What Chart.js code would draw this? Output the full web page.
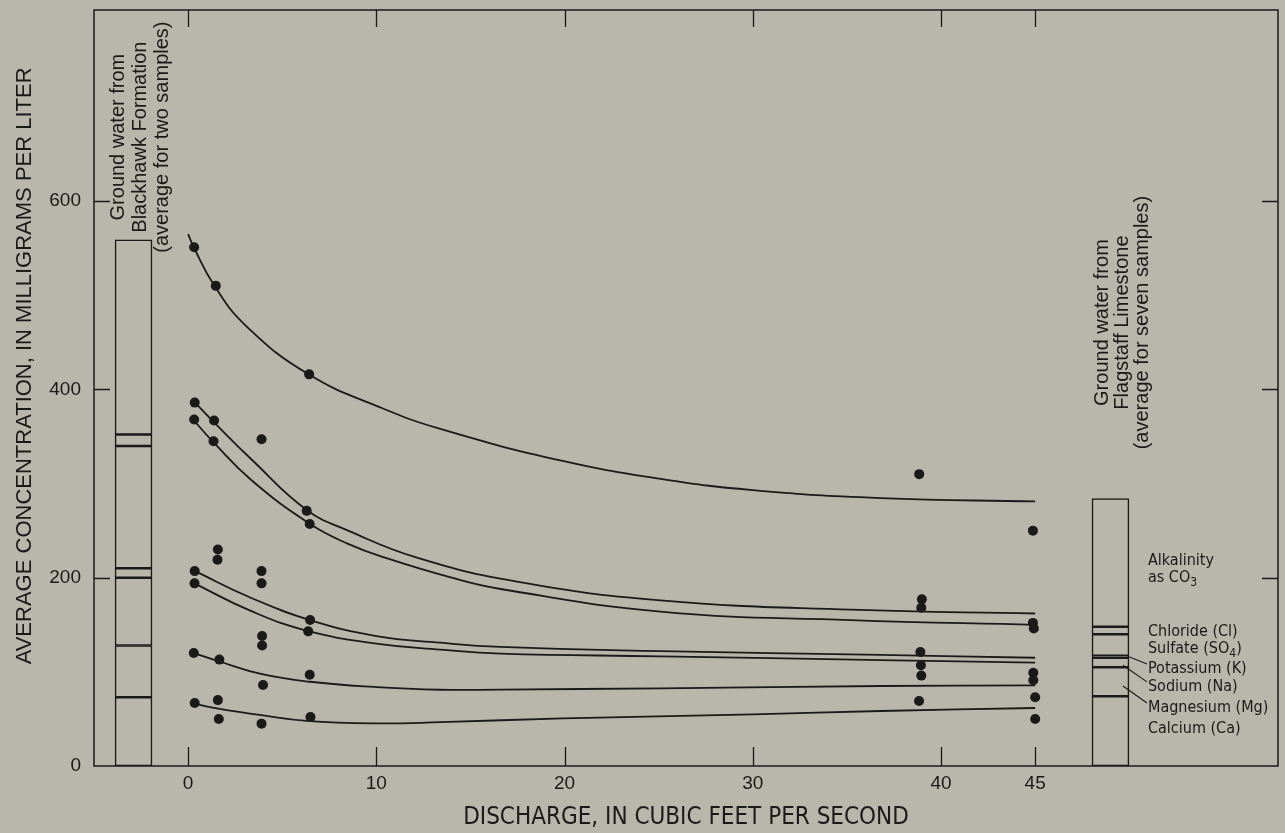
<!DOCTYPE html>
<html lang="en">
<head>
<meta charset="utf-8">
<title>Average concentration and discharge</title>
<script src="https://cdn.jsdelivr.net/npm/chart.js@4.4.1/dist/chart.umd.min.js"></script>
<style>
  html, body { margin: 0; padding: 0; background: #b9b6ab; }
  .chart-wrap { position: relative; width: 1285px; height: 833px; }
</style>
</head>
<body>
<div class="chart-wrap"><canvas id="chart"></canvas></div>
<script>
// constituents, from the bottom of each bar to the top ("_3" = subscript 3)
const constituents = ['Calcium (Ca)', 'Magnesium (Mg)', 'Sodium (Na)', 'Potassium (K)', 'Sulfate (SO_4)', 'Chloride (Cl)', 'Alkalinity\nas CO_3'];
const blackhawkMgL = [73, 55, 72, 10, 130, 12, 207];
const flagstaffMgL = [74, 31, 10, 2, 23, 8, 136];
const blackhawkQ = -2.9;
const flagstaffQ = 49;

// stream samples: discharge (ft3/s) and concentration (mg/L)
const sampleQ = [
  0.32, 0.35, 0.32, 0.35, 0.34, 0.30, 0.35,
  1.47, 1.38, 1.35, 1.58, 1.56, 1.66, 1.58, 1.63,
  3.90, 3.90, 3.90, 3.93, 3.93, 3.98, 3.90,
  6.43, 6.30, 6.46, 6.48, 6.38, 6.46, 6.50,
  38.84, 38.98, 38.95, 38.90, 38.93, 38.95, 38.83,
  44.88, 44.88, 44.93, 44.90, 44.90, 45.00, 45.00
];
const sampleMgL = [
  551, 386, 368, 207, 194, 120, 67,
  510, 367, 345, 230, 219, 113, 70, 50,
  347, 207, 194, 138, 128, 86, 45,
  416, 271, 257, 155, 143, 97, 52,
  310, 177, 168, 121, 107, 96, 69,
  250, 152, 146, 99, 91, 73, 50
];

// fitted curves, top of each cumulative constituent band
const totalQ = [0, 0.3, 1.4, 3.1, 6.4, 10.2, 13.4, 19.9, 25.1, 30, 36.8, 45];
const totalMgL = [565, 551, 510, 467, 416, 381, 358, 324, 305, 293, 284.5, 281];
const chlorideQ = [0.37, 1.38, 3.4, 6.3, 8.5, 12.2, 17.4, 25.1, 35.2, 45];
const chlorideMgL = [386, 365, 325, 272, 250, 221, 196, 176, 166, 162];
const sulfateQ = [0.31, 1.34, 3.4, 6.48, 8.5, 10.5, 14, 16.6, 25.1, 35.2, 45];
const sulfateMgL = [367, 344, 303, 257, 236, 221, 200, 188, 164, 155, 150];
const potassiumQ = [0.37, 3.3, 6.48, 10, 13.4, 16.6, 25.1, 36.8, 45];
const potassiumMgL = [207, 179, 155, 138, 131, 126.5, 122, 118, 115];
const sodiumQ = [0.33, 3.3, 6.35, 10, 13.4, 16.6, 25.1, 36.8, 45];
const sodiumMgL = [194, 165, 143.4, 130, 123.6, 119.4, 116.5, 112.5, 109.7];
const magnesiumQ = [0.3, 1.66, 3.93, 6.48, 9.84, 13.4, 16.6, 25.1, 36.8, 45];
const magnesiumMgL = [120, 111, 97.5, 89.5, 84, 81, 81.2, 82.5, 85, 85.6];
const calciumQ = [0.35, 1.6, 3.9, 6.3, 9.85, 13.4, 19.9, 30, 36.8, 45];
const calciumMgL = [66, 61, 54, 48, 45.3, 46.5, 50.6, 54.8, 58.4, 61.6];

const xTickValues = [0, 10, 20, 30, 40, 45];
const yTickValues = [0, 200, 400, 600];

// where the Flagstaff labels sit (mg/L) and where the leader lines start
const labelAt = [39, 61.6, 84, 103, 124, 142, 217.6];
const leaderFrom = [null, 85, 107, 116, null, null, null];

const ink = '#1a1a18';
const sansFont = "'Liberation Sans', Arial, sans-serif";
const narrowFont = "'Liberation Sans Narrow', 'DejaVu Sans Condensed', 'Liberation Sans', sans-serif";

const toPoints = (xs, ys) => xs.map((v, i) => ({ x: v, y: ys[i] }));

const stackSegments = (q, values) => {
  let base = 0;
  return values.map((v) => {
    const seg = { x: q, y: [base, base + v] };
    base += v;
    return seg;
  });
};

const curves = [
  toPoints(totalQ, totalMgL),
  toPoints(chlorideQ, chlorideMgL),
  toPoints(sulfateQ, sulfateMgL),
  toPoints(potassiumQ, potassiumMgL),
  toPoints(sodiumQ, sodiumMgL),
  toPoints(magnesiumQ, magnesiumMgL),
  toPoints(calciumQ, calciumMgL)
];

function drawWithSubscripts(ctx, text, x, y, size) {
  const parts = text.split(/_(\d)/);
  parts.forEach((part, i) => {
    const sub = i % 2 === 1;
    ctx.font = `${sub ? Math.round(size * 0.72) : size}px ${narrowFont}`;
    ctx.fillText(part, x, y + (sub ? size * 0.3 : 0));
    x += ctx.measureText(part).width;
  });
}

function rotatedLines(ctx, lines, cx, cy, gap) {
  lines.forEach((t, i) => {
    ctx.save();
    ctx.translate(cx + (i - (lines.length - 1) / 2) * gap, cy);
    ctx.rotate(-Math.PI / 2);
    ctx.fillText(t, 0, 0);
    ctx.restore();
  });
}

const frameAndNotes = {
  id: 'frameAndNotes',
  afterDraw(chart) {
    const { ctx, chartArea: a, scales: { x, y } } = chart;
    ctx.save();
    ctx.strokeStyle = ink;
    ctx.fillStyle = ink;

    // frame
    ctx.lineWidth = 1.5;
    ctx.strokeRect(a.left, a.top, a.right - a.left, a.bottom - a.top);

    // ticks pointing into the plot, on all four sides
    ctx.lineWidth = 1.3;
    ctx.beginPath();
    xTickValues.forEach((v) => {
      const px = Math.round(x.getPixelForValue(v)) + 0.5;
      ctx.moveTo(px, a.bottom); ctx.lineTo(px, a.bottom - 19);
      ctx.moveTo(px, a.top); ctx.lineTo(px, a.top + 17);
    });
    yTickValues.filter((v) => v > 0).forEach((v) => {
      const py = Math.round(y.getPixelForValue(v)) + 0.5;
      ctx.moveTo(a.left, py); ctx.lineTo(a.left + 16, py);
      ctx.moveTo(a.right, py); ctx.lineTo(a.right - 16, py);
    });
    ctx.stroke();

    // y axis title
    ctx.font = `22px ${sansFont}`;
    ctx.textAlign = 'center';
    ctx.textBaseline = 'middle';
    rotatedLines(ctx, ['AVERAGE CONCENTRATION, IN MILLIGRAMS PER LITER'], 25, y.getPixelForValue(425), 0);

    // notes beside the two ground-water bars
    ctx.font = `20px ${sansFont}`;
    rotatedLines(ctx, ['Ground water from', 'Blackhawk Formation', '(average for two samples)'],
      x.getPixelForValue(blackhawkQ) + 6.5, y.getPixelForValue(668), 22);
    rotatedLines(ctx, ['Ground water from', 'Flagstaff Limestone', '(average for seven samples)'],
      x.getPixelForValue(flagstaffQ) + 12, y.getPixelForValue(471), 20);

    // constituent labels for the Flagstaff bar
    const barRight = x.getPixelForValue(flagstaffQ) + 18.5;
    const labelX = barRight + 19;
    ctx.textAlign = 'left';
    constituents.forEach((name, i) => {
      const py = y.getPixelForValue(labelAt[i]);
      name.split('\n').forEach((line, j) => drawWithSubscripts(ctx, line, labelX, py + j * 17, 16));
      if (leaderFrom[i] !== null) {
        const startX = i === 3 ? barRight : barRight - 6;
        ctx.lineWidth = 1.1;
        ctx.beginPath();
        ctx.moveTo(startX, y.getPixelForValue(leaderFrom[i]));
        ctx.lineTo(labelX - 1, py - 5);
        ctx.stroke();
      }
    });
    ctx.restore();
  }
};

document.addEventListener('DOMContentLoaded', function () {
  Chart.defaults.font.family = sansFont;
  Chart.defaults.color = ink;

  new Chart(document.getElementById('chart'), {
    type: 'scatter',
    data: {
      datasets: [
        {
          type: 'scatter',
          data: toPoints(sampleQ, sampleMgL),
          pointRadius: 5,
          pointBackgroundColor: ink,
          pointBorderWidth: 0
        },
        ...curves.map((pts) => ({
          type: 'line',
          data: pts,
          borderColor: ink,
          borderWidth: 1.8,
          pointRadius: 0,
          tension: 0.45,
          fill: false
        })),
        {
          type: 'bar',
          data: [...stackSegments(blackhawkQ, blackhawkMgL), ...stackSegments(flagstaffQ, flagstaffMgL)],
          backgroundColor: 'rgba(0,0,0,0)',
          borderColor: ink,
          borderWidth: 0.9,
          borderSkipped: false,
          barThickness: 37
        }
      ]
    },
    options: {
      responsive: true,
      maintainAspectRatio: false,
      animation: false,
      events: [],
      layout: { padding: { top: 10, right: 7, left: 0, bottom: 0 } },
      plugins: { legend: { display: false }, tooltip: { enabled: false } },
      scales: {
        x: {
          type: 'linear',
          min: -5,
          max: 57.9,
          offset: false,
          grid: { display: false, drawTicks: false, offset: false },
          border: { display: false },
          afterBuildTicks: (s) => { s.ticks = xTickValues.map((v) => ({ value: v })); },
          afterFit: (s) => { s.height = 67; s.paddingLeft = 0; s.paddingRight = 0; },
          ticks: { color: ink, font: { size: 19 }, padding: 6, maxRotation: 0, autoSkip: false },
          title: {
            display: true,
            text: 'DISCHARGE, IN CUBIC FEET PER SECOND',
            color: ink,
            font: { family: narrowFont, size: 24 },
            padding: { top: 0, bottom: 1 }
          }
        },
        y: {
          type: 'linear',
          min: 0,
          max: 803,
          grid: { display: false, drawTicks: false },
          border: { display: false },
          afterBuildTicks: (s) => { s.ticks = yTickValues.map((v) => ({ value: v })); },
          afterFit: (s) => { s.width = 94; s.paddingTop = 0; s.paddingBottom = 0; },
          ticks: { color: ink, font: { size: 19 }, padding: 13 }
        }
      }
    },
    plugins: [frameAndNotes]
  });
});
</script>
</body>
</html>
